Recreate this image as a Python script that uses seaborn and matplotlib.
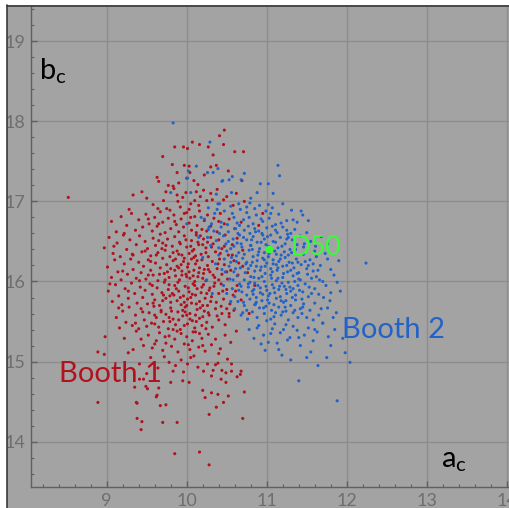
import matplotlib
matplotlib.use("Agg")
import matplotlib.pyplot as plt
import seaborn as sns
import pandas as pd
from matplotlib.patches import Rectangle
from matplotlib.lines import Line2D

# ---------------- data ----------------
booth1_points = [
    (8.52,17.05),
    (10.47,17.89),(10.41,17.82),(10.07,17.74),(10.16,17.71),(10.27,17.68),(10.46,17.71),(9.96,17.68),(9.85,17.68),(10.01,17.66),(9.70,17.56),(10.60,17.62),(10.71,17.62),(10.33,17.58),
    (9.82,17.46),(9.97,17.45),(10.03,17.44),(10.37,17.45),(10.30,17.43),(9.88,17.36),(10.04,17.36),(9.63,17.30),(9.65,17.25),(9.90,17.23),(10.09,17.26),(10.00,17.29),(10.69,17.26),(9.77,17.20),(9.83,17.19),(10.22,17.33),(10.52,17.38),(10.14,17.21),
    (9.44,17.12),(9.33,17.08),(9.50,17.04),(9.74,17.12),(9.84,17.16),(9.99,17.11),(10.12,17.12),(10.10,17.01),(9.71,17.01),(9.89,17.00),(10.21,17.14),(10.17,17.06),(9.28,16.90),(9.58,16.96),(9.64,16.91),(9.75,16.91),(9.79,16.89),(9.92,16.93),(10.03,16.90),(10.25,17.01),(10.32,17.02),(10.46,17.02),(10.50,17.06),(10.38,17.15),(10.58,16.95),(10.05,16.97),(9.95,17.05),(10.62,17.10),
    (9.06,16.75),(9.12,16.62),(9.18,16.81),(9.25,16.70),(9.31,16.85),(9.36,16.64),(9.40,16.77),(9.45,16.68),(9.49,16.84),(9.53,16.72),(9.57,16.63),(9.60,16.80),(9.63,16.69),(9.67,16.87),(9.70,16.74),(9.73,16.61),(9.77,16.79),(9.80,16.66),(9.84,16.83),(9.87,16.71),(9.90,16.62),(9.93,16.78),(9.96,16.68),(10.00,16.86),(10.03,16.73),(10.06,16.64),(10.10,16.81),(10.13,16.70),(10.16,16.88),(10.19,16.65),(10.22,16.76),(10.26,16.83),(10.30,16.69),(10.34,16.79),(10.38,16.62),(10.42,16.85),(10.47,16.72),(10.53,16.78),(10.60,16.66),(10.68,16.74),(9.97,16.85),(9.22,16.60),(10.12,16.61),
    (8.97,16.42),(9.03,16.55),(9.08,16.35),(9.13,16.48),(9.17,16.31),(9.21,16.58),(9.25,16.40),(9.29,16.52),(9.33,16.33),(9.37,16.46),(9.41,16.57),(9.44,16.37),(9.48,16.50),(9.51,16.41),(9.55,16.32),(9.58,16.54),(9.61,16.45),(9.64,16.36),(9.67,16.59),(9.70,16.48),(9.73,16.39),(9.76,16.53),(9.79,16.31),(9.82,16.44),(9.85,16.56),(9.88,16.38),(9.91,16.49),(9.94,16.33),(9.97,16.57),(10.00,16.43),(10.03,16.35),(10.06,16.51),(10.09,16.40),(10.12,16.58),(10.15,16.46),(10.18,16.34),(10.21,16.53),(10.24,16.42),(10.27,16.31),(10.30,16.55),(10.33,16.47),(10.36,16.37),(10.40,16.52),(10.44,16.41),(10.48,16.58),(10.52,16.33),(10.57,16.46),(10.63,16.54),(10.70,16.39),(9.90,16.34),(10.05,16.44),(10.17,16.57),(9.74,16.45),(10.26,16.49),(9.99,16.52),(10.11,16.32),
    (9.01,16.18),(9.06,16.05),(9.10,16.27),(9.14,16.12),(9.18,16.02),(9.22,16.22),(9.26,16.09),(9.30,16.28),(9.33,16.15),(9.37,16.04),(9.40,16.24),(9.43,16.11),(9.46,16.19),(9.49,16.03),(9.52,16.27),(9.55,16.14),(9.58,16.08),(9.61,16.23),(9.64,16.01),(9.67,16.17),(9.70,16.29),(9.72,16.10),(9.75,16.21),(9.78,16.05),(9.80,16.16),(9.83,16.26),(9.86,16.07),(9.88,16.19),(9.91,16.02),(9.94,16.13),(9.96,16.25),(9.99,16.09),(10.01,16.18),(10.04,16.04),(10.06,16.28),(10.09,16.14),(10.11,16.22),(10.14,16.06),(10.16,16.17),(10.19,16.27),(10.21,16.10),(10.24,16.01),(10.26,16.20),(10.29,16.12),(10.32,16.25),(10.35,16.05),(10.38,16.16),(10.41,16.28),(10.44,16.09),(10.47,16.21),(10.51,16.03),(10.55,16.14),(10.59,16.26),(10.64,16.08),(10.70,16.19),(10.76,16.11),(9.93,16.21),(10.03,16.12),(10.13,16.26),(9.85,16.14),(10.20,16.04),(9.66,16.09),(10.08,16.07),(9.97,16.29),(10.27,16.15),
    (9.02,15.88),(9.07,15.75),(9.11,15.96),(9.15,15.82),(9.19,15.71),(9.23,15.91),(9.27,15.79),(9.31,15.98),(9.35,15.85),(9.38,15.73),(9.42,15.93),(9.45,15.80),(9.48,15.89),(9.51,15.72),(9.54,15.97),(9.57,15.84),(9.60,15.77),(9.63,15.92),(9.66,15.70),(9.69,15.86),(9.72,15.99),(9.74,15.79),(9.77,15.90),(9.80,15.74),(9.82,15.85),(9.85,15.95),(9.88,15.76),(9.90,15.88),(9.93,15.71),(9.96,15.82),(9.98,15.94),(10.01,15.78),(10.03,15.87),(10.06,15.73),(10.08,15.97),(10.11,15.83),(10.13,15.91),(10.16,15.75),(10.18,15.86),(10.21,15.96),(10.23,15.79),(10.26,15.70),(10.28,15.89),(10.31,15.81),(10.34,15.94),(10.37,15.74),(10.40,15.85),(10.43,15.97),(10.46,15.78),(10.50,15.90),(10.54,15.72),(10.58,15.83),(10.63,15.95),(10.68,15.77),(9.92,15.80),(10.02,15.92),(10.12,15.72),(9.84,15.83),(10.19,15.93),(9.70,15.76),(10.07,15.84),(9.97,15.74),(10.25,15.85),(9.78,15.96),
    (9.12,15.55),(9.16,15.42),(9.20,15.63),(9.24,15.49),(9.28,15.68),(9.32,15.45),(9.36,15.58),(9.40,15.41),(9.43,15.66),(9.47,15.52),(9.50,15.44),(9.53,15.61),(9.56,15.48),(9.59,15.69),(9.62,15.55),(9.65,15.43),(9.68,15.64),(9.71,15.50),(9.74,15.59),(9.77,15.41),(9.80,15.67),(9.83,15.53),(9.86,15.46),(9.89,15.62),(9.92,15.40),(9.95,15.57),(9.98,15.68),(10.01,15.47),(10.04,15.60),(10.07,15.51),(10.10,15.42),(10.13,15.65),(10.16,15.54),(10.19,15.45),(10.22,15.63),(10.25,15.49),(10.28,15.58),(10.32,15.43),(10.36,15.66),(10.40,15.52),(10.44,15.60),(10.48,15.46),(10.53,15.56),(10.59,15.64),(9.90,15.52),(10.00,15.58),(10.11,15.58),(9.79,15.50),(10.20,15.56),(9.60,15.47),
    (8.89,15.12),(8.97,15.09),(8.98,15.31),(9.22,15.29),(9.27,15.11),(9.33,15.15),(9.37,15.38),(9.46,15.20),(9.52,15.33),(9.57,15.17),(9.62,15.26),(9.66,15.36),(9.70,15.14),(9.74,15.23),(9.78,15.32),(9.81,15.19),(9.85,15.28),(9.89,15.12),(9.93,15.35),(9.97,15.22),(10.00,15.31),(10.04,15.15),(10.07,15.26),(10.11,15.37),(10.15,15.18),(10.19,15.29),(10.23,15.13),(10.27,15.34),(10.31,15.21),(10.36,15.28),(10.42,15.16),(10.48,15.33),(10.55,15.24),(10.62,15.38),(9.43,15.28),(9.88,15.38),(10.16,15.35),(10.02,15.21),
    (10.01,14.97),(9.86,14.95),(9.78,14.99),(10.44,14.89),(10.49,14.86),(10.56,14.88),(10.43,14.78),(10.63,14.81),(10.67,14.84),(10.68,14.88),(10.21,14.88),(10.31,14.82),(10.33,14.89),(10.36,14.96),(10.26,14.97),(10.39,14.98),(10.51,15.03),(10.56,14.97),(9.41,14.97),(9.55,15.05),(9.64,14.92),(9.72,15.06),(9.93,15.02),(10.09,15.07),(10.14,14.93),(9.96,14.87),
    (9.35,14.68),(9.49,14.69),(9.51,14.66),(9.65,14.67),(9.80,14.74),(9.95,14.76),(10.03,14.74),(10.49,14.74),(9.46,14.78),(9.41,14.78),(9.62,14.56),(9.37,14.49),(8.89,14.49),(9.63,14.58),(10.20,14.64),(10.23,14.55),(10.31,14.61),(10.39,14.59),(10.52,14.57),(10.72,14.62),(10.46,14.49),(9.67,14.45),(9.74,14.46),
    (9.38,14.48),(9.38,14.29),(9.44,14.25),(9.43,14.15),(9.70,14.24),(9.88,14.24),(9.85,13.85),(10.16,13.87),(10.28,13.71),(10.37,14.43),(10.28,14.34),(10.70,14.29),
    (10.80,16.45),(10.85,15.95),(10.90,16.70),(10.78,15.60),(10.95,16.85),(10.72,17.00),
    (9.52,16.08),(9.57,15.95),(9.62,16.33),(9.68,15.62),(9.73,16.02),(9.78,15.55),(9.83,16.36),(9.87,15.91),(9.92,16.47),(9.95,15.64),(10.00,16.06),(10.04,15.53),(10.07,16.38),(10.10,15.95),(10.14,16.49),(10.17,15.67),(10.22,16.15),(10.27,15.61),(10.31,16.43),(10.35,15.98),(10.39,16.22),(10.43,15.69),(10.47,16.44),(9.55,16.25),(9.60,15.58),(9.65,16.51),(9.71,15.83),(9.76,16.12),(9.81,15.63),(9.86,16.28),(9.89,15.99),(9.94,16.08),(9.98,15.62),(10.02,16.22),(10.05,15.80),(10.09,16.30),(10.12,15.50),(10.15,16.11),(10.20,15.70),(10.24,16.36),(10.29,15.92),(10.33,16.08),(10.38,15.57),(10.42,16.35),(10.45,15.88),(10.50,16.12),(10.53,15.60),(10.57,16.33),(10.61,15.88),(10.65,16.23),(9.45,15.62),(9.41,16.01),(9.36,15.48),(9.32,16.34),(9.27,15.88),(9.20,16.13),(9.15,15.67),(9.09,16.44),(9.04,15.97),(9.48,16.38),(9.58,15.73),(9.69,16.41),(9.79,15.82),(9.90,16.17),(10.00,15.70),(10.10,16.00),(10.20,16.46),(10.30,15.75),(10.40,16.02),(10.50,15.66),(9.83,15.40),(9.97,15.45),(10.08,15.37),(9.73,15.31),(10.24,15.41),(9.65,16.72),(9.85,16.75),(10.05,16.80),(10.25,16.63),(10.40,16.75),(9.52,16.78),(9.88,17.08),(10.15,16.95),(10.30,17.10),(9.60,15.22),(10.05,15.05),(10.20,15.20),(9.83,14.88),(10.40,15.10),(9.50,14.85),
]

booth2_points = [
    (9.83,17.98),(10.29,17.74),(10.26,17.36),(10.12,17.44),(10.02,17.38),(10.01,17.29),(9.80,17.11),(10.05,17.11),(10.39,17.41),(10.72,17.35),(10.44,17.25),(10.53,17.27),(10.37,17.09),(10.41,16.97),(10.56,17.11),(10.00,16.72),(10.27,16.65),(10.38,16.90),(11.14,17.45),(11.16,17.32),(10.92,17.22),(11.02,17.22),(10.68,17.27),(10.57,17.31),(10.45,17.26),(10.33,17.36),(10.88,17.11),(10.80,17.04),(10.75,16.93),(11.08,17.10),(11.43,16.88),(11.33,16.77),(11.52,16.76),(11.25,16.64),
    (10.15,16.55),(10.20,16.30),(10.25,16.02),(10.32,15.85),(10.28,16.68),(10.18,16.80),
    (10.22,16.78),(10.27,16.92),(10.31,16.72),(10.35,16.85),(10.39,16.97),(10.43,16.74),(10.47,16.88),(10.51,16.71),(10.55,16.94),(10.59,16.80),(10.63,16.73),(10.67,16.90),(10.71,16.77),(10.75,16.86),(10.79,16.98),(10.83,16.72),(10.87,16.83),(10.91,16.95),(10.95,16.75),(10.99,16.88),(11.03,16.79),(11.07,16.92),(11.11,16.71),(11.15,16.84),(11.20,16.97),(11.25,16.76),(11.31,16.89),(11.38,16.74),(11.45,16.83),(10.65,16.97),(10.85,16.91),(10.57,16.85),(10.93,16.78),(11.02,16.96),
    (10.26,16.55),(10.30,16.45),(10.34,16.63),(10.37,16.51),(10.40,16.42),(10.43,16.68),(10.46,16.57),(10.49,16.47),(10.52,16.62),(10.55,16.41),(10.58,16.53),(10.61,16.66),(10.63,16.48),(10.66,16.58),(10.69,16.43),(10.72,16.64),(10.75,16.52),(10.77,16.69),(10.80,16.45),(10.83,16.56),(10.86,16.62),(10.88,16.49),(10.91,16.41),(10.94,16.60),(10.97,16.53),(11.00,16.67),(11.02,16.44),(11.05,16.58),(11.08,16.50),(11.11,16.64),(11.14,16.42),(11.17,16.55),(11.20,16.68),(11.23,16.47),(11.26,16.59),(11.29,16.40),(11.32,16.52),(11.35,16.65),(11.38,16.46),(11.42,16.57),(11.46,16.43),(11.50,16.61),(11.55,16.50),(11.61,16.44),(11.68,16.56),(11.76,16.47),(10.71,16.55),(10.85,16.66),(10.99,16.46),(11.13,16.61),(10.59,16.44),(10.93,16.49),(11.07,16.69),(10.79,16.60),(11.25,16.53),(10.64,16.60),(11.01,16.56),
    (10.36,16.22),(10.40,16.33),(10.44,16.15),(10.47,16.28),(10.50,16.38),(10.53,16.19),(10.56,16.30),(10.59,16.12),(10.62,16.25),(10.65,16.36),(10.67,16.17),(10.70,16.29),(10.73,16.11),(10.75,16.24),(10.78,16.39),(10.80,16.20),(10.83,16.31),(10.85,16.13),(10.88,16.26),(10.90,16.37),(10.93,16.18),(10.95,16.29),(10.98,16.10),(11.00,16.23),(11.03,16.35),(11.05,16.16),(11.08,16.27),(11.10,16.38),(11.13,16.14),(11.15,16.25),(11.18,16.33),(11.20,16.19),(11.23,16.30),(11.26,16.12),(11.28,16.24),(11.31,16.36),(11.34,16.17),(11.37,16.28),(11.40,16.11),(11.43,16.21),(11.46,16.34),(11.50,16.16),(11.54,16.27),(11.58,16.13),(11.62,16.31),(11.67,16.20),(11.73,16.35),(11.80,16.15),(11.90,16.26),(10.72,16.34),(10.82,16.24),(10.92,16.14),(11.02,16.31),(11.12,16.21),(11.22,16.37),(11.32,16.23),(10.62,16.32),(10.87,16.19),(11.07,16.12),(11.17,16.28),(10.97,16.36),(11.27,16.33),(11.39,16.24),(10.77,16.16),(11.48,16.25),(10.55,16.24),(11.58,16.22),(12.24,16.23),
    (10.46,15.95),(10.50,15.85),(10.54,16.03),(10.57,15.91),(10.60,15.81),(10.63,16.07),(10.66,15.97),(10.69,15.87),(10.72,16.02),(10.75,15.83),(10.77,15.93),(10.80,16.06),(10.82,15.88),(10.85,15.98),(10.87,15.80),(10.90,16.04),(10.92,15.92),(10.95,15.84),(10.97,16.00),(11.00,15.89),(11.02,15.82),(11.05,16.08),(11.07,15.96),(11.10,15.86),(11.12,16.01),(11.15,15.90),(11.17,15.81),(11.20,16.05),(11.22,15.94),(11.25,15.85),(11.27,15.99),(11.30,15.88),(11.33,16.07),(11.36,15.83),(11.39,15.95),(11.42,16.02),(11.45,15.87),(11.48,15.97),(11.52,15.81),(11.56,16.04),(11.60,15.91),(11.65,15.84),(11.70,16.00),(11.74,15.95),(11.80,15.86),(11.88,15.99),(10.79,15.99),(10.89,15.95),(10.99,15.94),(11.09,15.92),(11.19,15.98),(11.29,15.93),(11.41,15.89),(10.68,15.94),(10.94,16.06),(11.04,15.85),(11.14,16.04),(11.24,15.90),(11.35,16.00),(10.84,15.90),(11.53,15.93),(11.62,16.06),
    (10.60,15.66),(10.64,15.75),(10.68,15.58),(10.72,15.70),(10.76,15.53),(10.79,15.78),(10.82,15.62),(10.85,15.71),(10.88,15.55),(10.91,15.67),(10.94,15.76),(10.97,15.60),(11.00,15.51),(11.03,15.73),(11.06,15.64),(11.09,15.56),(11.12,15.79),(11.15,15.68),(11.18,15.58),(11.21,15.74),(11.24,15.63),(11.27,15.52),(11.30,15.70),(11.33,15.61),(11.36,15.77),(11.39,15.55),(11.42,15.66),(11.46,15.72),(11.50,15.55),(11.54,15.64),(11.60,15.73),(11.65,15.58),(11.70,15.48),(11.76,15.67),(11.83,15.55),(11.87,15.61),(10.87,15.74),(10.99,15.69),(11.11,15.61),(11.23,15.68),(11.35,15.64),(10.75,15.64),(11.05,15.53),(11.18,15.76),(11.44,15.60),
    (10.78,15.40),(10.84,15.29),(10.90,15.45),(10.96,15.33),(11.02,15.24),(11.07,15.41),(11.13,15.23),(11.17,15.36),(11.21,15.40),(11.26,15.27),(11.29,15.30),(11.33,15.44),(11.38,15.39),(11.42,15.20),(11.47,15.33),(11.52,15.42),(11.58,15.26),(11.63,15.37),(11.70,15.48),(11.77,15.31),(11.85,15.40),(11.95,15.29),(11.10,15.47),(10.93,15.22),
    (10.98,15.14),(11.19,15.08),(11.30,15.02),(11.55,15.12),(11.64,14.95),(11.98,15.11),(12.04,14.99),(11.40,14.76),(11.88,14.51),(11.75,15.05),
    (10.61,16.16),(10.65,15.89),(10.68,16.47),(10.71,15.74),(10.74,16.22),(10.77,15.97),(10.81,16.52),(10.84,16.05),(10.86,15.72),(10.89,16.33),(10.92,15.86),(10.95,16.58),(10.98,16.19),(11.01,15.77),(11.04,16.42),(11.06,16.04),(11.09,15.71),(11.11,16.49),(11.14,16.17),(11.16,15.94),(11.19,16.44),(11.21,16.10),(11.24,15.76),(11.27,16.55),(11.30,16.14),(11.33,15.91),(11.36,16.40),(11.40,16.03),(11.44,15.78),(11.47,16.47),(11.51,16.09),(11.56,15.85),(11.60,16.38),(11.66,16.02),(11.71,15.80),(10.66,16.70),(10.78,16.80),(10.90,16.63),(11.05,16.85),(11.18,16.73),(11.30,16.60),(10.58,16.02),(10.70,15.61),(10.83,15.84),(10.96,15.67),(11.08,16.22),(11.20,15.62),(11.32,15.80),(11.45,15.68),(11.58,15.52),(11.68,15.66),(11.79,15.76),(11.84,16.08),(11.92,15.88),(10.52,16.50),(10.48,16.12),(10.41,16.60),(10.55,15.75),(10.82,16.40),(10.97,16.27),(11.12,16.34),(11.25,16.20),(11.38,16.10),(11.52,16.20),(11.64,16.14),(11.76,16.28),(10.88,15.42),(11.05,15.35),(11.24,15.46),(11.40,15.30),(11.60,15.40),(11.80,15.20),(11.15,15.15),(11.50,15.05),
]

d50_point = (11.03, 16.40)
x_ticks = [9, 10, 11, 12, 13, 14]
y_ticks = [14, 15, 16, 17, 18, 19]
series_labels = ["Booth 1", "Booth 2"]

# ---------------- build table ----------------
rows = [(x, y, series_labels[0]) for x, y in booth1_points] + \
       [(x, y, series_labels[1]) for x, y in booth2_points]
df = pd.DataFrame(rows, columns=["a_c", "b_c", "booth"])

BG = "#a3a3a3"
RED = "#b0121e"
BLUE = "#2362c6"
GREEN = "#33ff33"

sns.set_theme(style="white")
plt.rcParams["font.family"] = ["Lato", "DejaVu Sans"]
plt.rcParams["mathtext.default"] = "regular"

W, H = 510, 508
fig = plt.figure(figsize=(W / 100, H / 100), dpi=100, facecolor=BG)
ax = fig.add_axes([31 / W, (H - 487.3) / H, (W - 31) / W, (487.3 - 6) / H])
ax.set_facecolor(BG)

sns.scatterplot(data=df, x="a_c", y="b_c", hue="booth",
                palette={series_labels[0]: RED, series_labels[1]: BLUE},
                s=5, linewidth=0, marker="o", legend=False, ax=ax, zorder=3)
ax.scatter([d50_point[0]], [d50_point[1]], s=30, color=GREEN, linewidth=0, zorder=4)

ax.set_xlim(8.054, 14.04)
ax.set_ylim(13.43, 19.44)
ax.set_xticks(x_ticks)
ax.set_yticks(y_ticks)
ax.set_xticks([v / 5 for v in range(41, 71)], minor=True)
ax.set_yticks([v / 5 for v in range(68, 98)], minor=True)
ax.grid(True, which="major", color="#8d8d8d", linewidth=1.0)
ax.grid(False, which="minor")
ax.set_axisbelow(True)
ax.set_xlabel("")
ax.set_ylabel("")

for side in ["top", "right"]:
    ax.spines[side].set_visible(False)
for side in ["left", "bottom"]:
    ax.spines[side].set_color("#606060")
    ax.spines[side].set_linewidth(1.0)

ax.tick_params(which="major", direction="in", length=4, width=1, color="#606060",
               labelsize=13, labelcolor="#6e6e6e", pad=4)
ax.tick_params(which="minor", direction="in", length=2.5, width=0.8, color="#606060")
ax.tick_params(axis="x", which="both", bottom=True)
ax.tick_params(axis="y", which="both", left=True)

# annotations
ax.text(9.05, 14.84, "Booth 1", color=RED, fontsize=21, ha="center", va="center", zorder=5)
ax.text(12.58, 15.40, "Booth 2", color=BLUE, fontsize=21, ha="center", va="center", zorder=5)
ax.text(11.30, 16.42, "D50", color=GREEN, fontsize=19, ha="left", va="center", zorder=5)
ax.text(8.16, 18.63, r"$\mathregular{b_c}$", color="black", fontsize=21, ha="left", va="center", zorder=5)
ax.text(13.18, 13.76, r"$\mathregular{a_c}$", color="black", fontsize=21, ha="left", va="center", zorder=5)

# outer frame: white strip on left/top with a dark line
fig.patches.append(Rectangle((0, 0), 7 / W, 1, transform=fig.transFigure, facecolor="white",
                             edgecolor="none", zorder=10))
fig.patches.append(Rectangle((0, 1 - 5 / H), 1, 5 / H, transform=fig.transFigure, facecolor="white",
                             edgecolor="none", zorder=10))
fig.lines.append(Line2D([7.5 / W, 7.5 / W], [0, 1 - 5 / H], transform=fig.transFigure,
                        color="#3a3a3a", linewidth=1.2, zorder=11))
fig.lines.append(Line2D([7.5 / W, 1], [1 - 5.5 / H, 1 - 5.5 / H], transform=fig.transFigure,
                        color="#3a3a3a", linewidth=1.2, zorder=11))

fig.savefig("out.png", dpi=100, facecolor=BG)
